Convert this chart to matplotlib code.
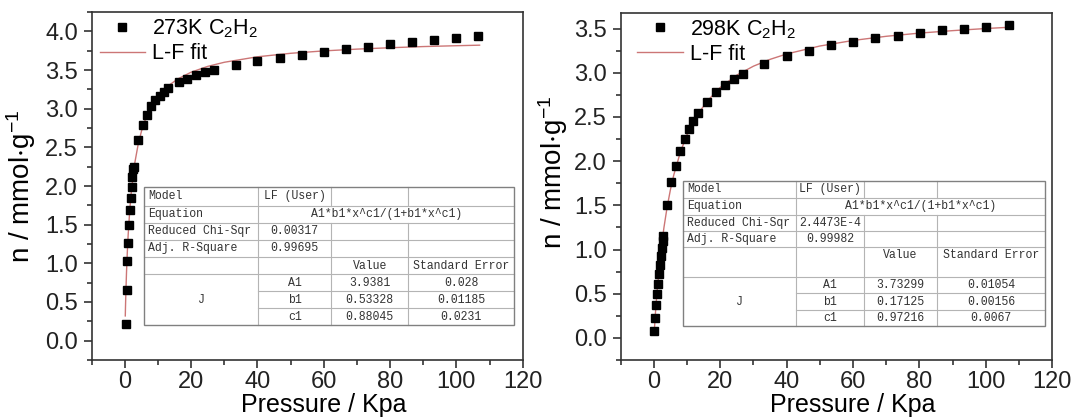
import matplotlib
matplotlib.use("Agg")
import matplotlib.pyplot as plt
from matplotlib.lines import Line2D
from matplotlib.patches import Rectangle
from matplotlib.ticker import MultipleLocator

plt.rcParams['font.family'] = ['Liberation Sans', 'DejaVu Sans']
plt.rcParams['mathtext.fontset'] = 'custom'
plt.rcParams['mathtext.rm'] = 'Liberation Sans'
plt.rcParams['mathtext.it'] = 'Liberation Sans:italic'
plt.rcParams['mathtext.default'] = 'regular'

# ---------------- data ----------------
p273 = [0.2, 0.5, 0.7, 0.9, 1.2, 1.55, 1.8, 2.1, 2.3, 2.6, 2.8, 4.0, 5.4, 6.6, 8.0, 9.2,
        10.5, 11.7, 13.1, 16.2, 18.7, 21.4, 24.1, 26.8, 33.4, 40.0, 46.7, 53.4, 60.0,
        66.6, 73.2, 80.0, 86.7, 93.3, 99.9, 106.4]
n273 = [0.22, 0.66, 1.03, 1.26, 1.50, 1.69, 1.85, 1.99, 2.12, 2.22, 2.25, 2.59, 2.79, 2.92,
        3.03, 3.11, 3.17, 3.22, 3.27, 3.34, 3.39, 3.43, 3.47, 3.50, 3.56, 3.62, 3.66, 3.70,
        3.73, 3.77, 3.80, 3.83, 3.86, 3.89, 3.91, 3.94]
fit273_p = [0.13, 0.2, 0.3, 0.5, 0.75, 1, 1.5, 2, 3, 4, 5, 6, 8, 10, 13, 16, 20, 25, 30,
            40, 50, 60, 70, 80, 90, 100, 107]
fit273_n = [0.320, 0.451, 0.614, 0.885, 1.153, 1.370, 1.703, 1.951, 2.299, 2.535, 2.707,
            2.839, 3.028, 3.158, 3.293, 3.385, 3.472, 3.547, 3.600, 3.671, 3.716, 3.747,
            3.770, 3.788, 3.803, 3.814, 3.821]

p298 = [0.1, 0.4, 0.6, 0.9, 1.2, 1.45, 1.75, 2.05, 2.3, 2.6, 2.8, 4.0, 5.3, 6.6, 7.9, 9.3,
        10.6, 11.9, 13.2, 16.1, 18.7, 21.4, 24.0, 26.7, 33.3, 40.0, 46.7, 53.4, 60.0,
        66.7, 73.4, 80.1, 86.7, 93.4, 100.1, 106.9]
n298 = [0.08, 0.23, 0.37, 0.50, 0.61, 0.72, 0.83, 0.93, 1.02, 1.10, 1.15, 1.50, 1.76, 1.95,
        2.12, 2.25, 2.36, 2.46, 2.54, 2.67, 2.78, 2.86, 2.93, 2.99, 3.10, 3.19, 3.25, 3.31,
        3.35, 3.39, 3.42, 3.45, 3.48, 3.50, 3.52, 3.54]
fit298_p = [0.1, 0.5, 1, 2, 3, 4, 5, 6, 8, 10, 13, 16, 20, 25, 30, 35, 40, 50, 60, 70, 80,
            90, 100, 107]
fit298_n = [0.067, 0.300, 0.546, 0.939, 1.242, 1.483, 1.681, 1.845, 2.105, 2.301, 2.518,
            2.677, 2.834, 2.974, 3.075, 3.152, 3.213, 3.303, 3.366, 3.413, 3.449, 3.477,
            3.501, 3.515]

labels_273 = [r'273K C$_2$H$_2$', 'L-F fit']
labels_298 = [r'298K C$_2$H$_2$', 'L-F fit']

table_rows = ['Model', 'Equation', 'Reduced Chi-Sqr', 'Adj. R-Square']
model_name = 'LF (User)'
equation = 'A1*b1*x^c1/(1+b1*x^c1)'
param_names = ['A1', 'b1', 'c1']
stats_273 = ['0.00317', '0.99695']
values_273 = ['3.9381', '0.53328', '0.88045']
errors_273 = ['0.028', '0.01185', '0.0231']
stats_298 = ['2.4473E-4', '0.99982']
values_298 = ['3.73299', '0.17125', '0.97216']
errors_298 = ['0.01054', '0.00156', '0.0067']

xlabel = 'Pressure / Kpa'
ylabel = r'n / mmol$\cdot$g$^{-1}$'

# ---------------- figure ----------------
W, H = 1073, 418
fig = plt.figure(figsize=(W / 100, H / 100), dpi=100)
ax1 = fig.add_axes([91.7 / W, 1 - 360 / H, 431 / W, 348 / H])
ax2 = fig.add_axes([620.7 / W, 1 - 360 / H, 431.5 / W, 347.3 / H])

FIT_COLOR = '#cc7676'
TFONT = dict(family=['Liberation Mono', 'DejaVu Sans Mono'], fontsize=8.3, color='#333333')


def draw_table(ax, xs, ys, stats, values, errors, value_frac):
    tr = ax.transAxes
    x0, x1, x2, x3, x4 = xs
    ax.add_patch(Rectangle((x0, ys[-1]), x4 - x0, ys[0] - ys[-1], transform=tr,
                           facecolor='white', edgecolor='none', zorder=5))
    inner = dict(color='#b4b4b4', lw=0.8, transform=tr, zorder=6)
    for i in range(1, 6):
        ax.add_line(Line2D([x0, x4], [ys[i], ys[i]], **inner))
    for i in (6, 7):
        ax.add_line(Line2D([x1, x4], [ys[i], ys[i]], **inner))
    ax.add_line(Line2D([x1, x1], [ys[0], ys[-1]], **inner))
    for xv in (x2, x3):
        ax.add_line(Line2D([xv, xv], [ys[0], ys[1]], **inner))
        ax.add_line(Line2D([xv, xv], [ys[2], ys[-1]], **inner))
    ax.add_patch(Rectangle((x0, ys[-1]), x4 - x0, ys[0] - ys[-1], transform=tr,
                           facecolor='none', edgecolor='#808080', lw=1.0, zorder=7))

    def mid(i):
        return (ys[i] + ys[i + 1]) / 2

    pad = 0.010
    kw = dict(transform=tr, va='center', zorder=8, **TFONT)
    for i, t in enumerate(table_rows):
        ax.text(x0 + pad, mid(i), t, ha='left', **kw)
    ax.text((x1 + x2) / 2, mid(0), model_name, ha='center', **kw)
    ax.text((x1 + x4) / 2, mid(1), equation, ha='center', **kw)
    for k, s in enumerate(stats):
        ax.text((x1 + x2) / 2, mid(2 + k), s, ha='center', **kw)
    yv = ys[4] - (ys[4] - ys[5]) * value_frac
    ax.text((x2 + x3) / 2, yv, 'Value', ha='center', **kw)
    ax.text((x3 + x4) / 2, yv, 'Standard Error', ha='center', **kw)
    ax.text((x0 + x1) / 2, mid(6), 'J', ha='center', **kw)
    for k in range(3):
        ax.text((x1 + x2) / 2, mid(5 + k), param_names[k], ha='center', **kw)
        ax.text((x2 + x3) / 2, mid(5 + k), values[k], ha='center', **kw)
        ax.text((x3 + x4) / 2, mid(5 + k), errors[k], ha='center', **kw)


def style(ax, ylim, ymajor, ylab_xy, leg_xy, labels):
    ax.set_xlim(-10, 120)
    ax.set_ylim(*ylim)
    ax.xaxis.set_major_locator(MultipleLocator(20))
    ax.xaxis.set_minor_locator(MultipleLocator(10))
    ax.yaxis.set_major_locator(MultipleLocator(ymajor))
    ax.yaxis.set_minor_locator(MultipleLocator(ymajor / 2))
    ax.yaxis.set_major_formatter(matplotlib.ticker.FormatStrFormatter('%.1f'))
    ax.tick_params(which='both', direction='out', top=False, right=False,
                   width=1.1, colors='#222222', labelsize=17)
    ax.tick_params(which='major', length=6)
    ax.tick_params(which='minor', length=3.5)
    ax.tick_params(axis='x', which='major', pad=2)
    ax.tick_params(axis='y', which='major', pad=4)
    for s in ax.spines.values():
        s.set_linewidth(1.2)
        s.set_color('#333333')
    ax.set_xlabel(xlabel, fontsize=18)
    ax.xaxis.set_label_coords(0.538, -0.095)
    ax.set_ylabel(ylabel, fontsize=20)
    ax.yaxis.set_label_coords(*ylab_xy)
    h1 = Line2D([], [], ls='none', marker='s', ms=6, color='black')
    h2 = Line2D([], [], color=FIT_COLOR, lw=1.0)
    ax.legend([h1, h2], labels, loc='upper left', bbox_to_anchor=leg_xy, frameon=False,
              fontsize=15.5, handlelength=2.1, handletextpad=0.33, labelspacing=0.15,
              borderpad=0, borderaxespad=0)


ax1.plot(fit273_p, fit273_n, color=FIT_COLOR, lw=1.0, zorder=2)
ax1.plot(p273, n273, ls='none', marker='s', ms=6, color='black', zorder=3)
style(ax1, (-0.25, 4.25), 0.5, (-0.124, 0.5), (0.019, 0.985), labels_273)
draw_table(ax1, [0.1204, 0.3865, 0.5555, 0.7346, 0.980],
           [0.4963, 0.4434, 0.3945, 0.3457, 0.2968, 0.2463, 0.1983, 0.1486, 0.1006],
           stats_273, values_273, errors_273, 0.5)

ax2.plot(fit298_p, fit298_n, color=FIT_COLOR, lw=1.0, zorder=2)
ax2.plot(p298, n298, ls='none', marker='s', ms=6, color='black', zorder=3)
style(ax2, (-0.25, 3.68), 0.5, (-0.118, 0.54), (0.0385, 0.985), labels_298)
draw_table(ax2, [0.1442, 0.4055, 0.5642, 0.7332, 0.9832],
           [0.5154, 0.4665, 0.4175, 0.3706, 0.3262, 0.2398, 0.1920, 0.1440, 0.0988],
           stats_298, values_298, errors_298, 0.28)

fig.savefig('out.png', dpi=100)
